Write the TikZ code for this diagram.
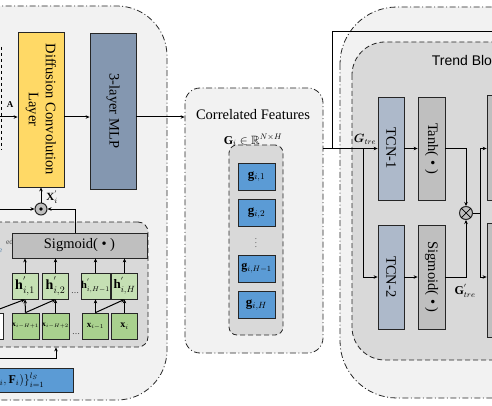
\documentclass[tikz,border=0pt]{standalone}
\usepackage{amsmath,amssymb}
\usepackage{fontspec}
\setmainfont{Liberation Serif}
\newfontfamily\arialfont{Liberation Sans}
\usetikzlibrary{arrows.meta}

\definecolor{panelgray}{HTML}{F2F2F2}
\definecolor{blockgray}{HTML}{D9D9D9}
\definecolor{actgray}{HTML}{BFBFBF}
\definecolor{dclyellow}{HTML}{FFD966}
\definecolor{mlpblue}{HTML}{8497B0}
\definecolor{tcnblue}{HTML}{ADB9CA}
\definecolor{hgreen}{HTML}{C5E0B4}
\definecolor{xgreen}{HTML}{A9D18E}
\definecolor{gblue}{HTML}{5B9BD5}

\begin{document}
\begin{tikzpicture}[x=1pt, y=-1pt, line width=1pt, >={Stealth[length=4pt,width=3.5pt]},
        box/.style={draw=black!85, line width=0.8pt, inner sep=0pt},
        panel/.style={draw=black!85, fill=panelgray, line width=0.8pt,
            dash pattern=on 6pt off 2.5pt on 1pt off 2.5pt},
        blk/.style={draw=black!85, fill=blockgray, line width=0.8pt,
            dash pattern=on 5pt off 3pt},
        txt/.style={font=\fontsize{14.5}{17}\selectfont},
        mth/.style={font=\fontsize{12}{12}\selectfont}]
            \useasboundingbox (0,0) rectangle (492,406);
            \clip (0,0) rectangle (492,406);
            %\draw[lightgray] (0, 0) grid[step=20] (492, 406);

            % left panel
            \draw[panel, rounded corners=50pt] (-60,6) rectangle (167,400);
            \draw[dashed] (1,47) -- (1,150);
            \node[box, fill=dclyellow, minimum width=46, minimum height=155] (dcl) at (41,109.5) {};
            \node[txt, rotate=-90, align=center] (dclt) at (dcl) {Diffusion Convolution\\Layer};
            \node[box, fill=mlpblue, minimum width=46, minimum height=156] (mlp) at (113,111) {};
            \node[txt, rotate=-90] (mlpt) at (mlp) {3-layer MLP};
            \coordinate (ain) at (-5,117);
            \node[font=\fontsize{9}{9}\selectfont] (alab) at (10,105) {$\mathbf{A}$};

            \node[blk, rounded corners=10pt, minimum width=178, minimum height=125] (gate) at (59,284.5) {};
            \node[anchor=east, font=\fontsize{7.5}{8}\selectfont, text=black!70] (gname) at (17,242) {ed};
            \node[anchor=east, font=\fontsize{7.5}{8}\selectfont, text=gblue!80!black] (gname2) at (6,251) {e};
            \node[box, fill=actgray, minimum width=135, minimum height=25, txt] (sig1) at (79.5,245.5) {Sigmoid( • )};

            \node[box, fill=hgreen, minimum size=26, font=\fontsize{14}{14}\selectfont] (h1) at (25,286) {$\mathbf{h}^{'}_{i,1}$};
            \node[box, fill=hgreen, minimum size=26, font=\fontsize{14}{14}\selectfont] (h2) at (55.5,286) {$\mathbf{h}^{'}_{i,2}$};
            \node[box, fill=hgreen, minimum size=26, font=\fontsize{10.5}{10}\selectfont] (h3) at (95.5,286) {$\mathbf{h}^{'}_{i,H-1}$};
            \node[box, fill=hgreen, minimum size=26, font=\fontsize{13}{13}\selectfont] (h4) at (124.5,286) {$\mathbf{h}^{'}_{i,H}$};
            \node[box, fill=white, minimum size=26] (x0) at (-10,326) {};
            \node[box, fill=xgreen, minimum size=26, font=\fontsize{7.5}{7}\selectfont] (x1) at (25.5,326) {$\mathbf{x}_{i-H+1}$};
            \node[box, fill=xgreen, minimum size=26, font=\fontsize{7.5}{7}\selectfont] (x2) at (55.5,326) {$\mathbf{x}_{i-H+2}$};
            \node[box, fill=xgreen, minimum size=26, font=\fontsize{9}{9}\selectfont] (x3) at (95.5,326) {$\mathbf{x}_{i-1}$};
            \node[box, fill=xgreen, minimum size=26, font=\fontsize{10}{10}\selectfont] (x4) at (124.5,326) {$\mathbf{x}_{i}$};
            \node[font=\fontsize{8}{8}\selectfont] (hdots) at (75,293) {\dots};
            \node[font=\fontsize{8}{8}\selectfont] (xdots) at (76,334) {\dots};

            \node[circle, draw=black!85, fill=actgray, minimum size=12, inner sep=0pt] (odot) at (41,209) {};
            \fill (odot) circle (1.8);
            \node[font=\fontsize{11}{11}\selectfont] (xlab) at (52,197) {$\mathbf{X}^{'}_{i}$};
            \coordinate (lin) at (-5,209);
            \coordinate (bin) at (-5,358);
            \node[box, fill=gblue, minimum width=134, minimum height=24, anchor=east] (data) at (74,380) {};
            \node[anchor=east, mth] (datat) at (48,380) {$\{(\mathbf{X}_i,\mathbf{F}_i)\}_{i=1}^{l_S}$};

            % correlated features
            \node[panel, rounded corners=15pt, minimum width=138, minimum height=265] (cf) at (254,220.5) {};
            \node[txt] (cft) at (253,115) {Correlated Features};
            \node[mth] (gdim) at (253,140) {$\mathbf{G}_i\in\mathbb{R}^{N\times H}$};
            \node[blk, rounded corners=8pt, minimum width=54, minimum height=190] (ginner) at (256,240) {};
            \node[box, fill=gblue, minimum width=37, minimum height=27, font=\fontsize{13}{13}\selectfont] (g1) at (256.5,176.5) {$\mathbf{g}_{i,1}$};
            \node[box, fill=gblue, minimum width=37, minimum height=27, font=\fontsize{13}{13}\selectfont] (g2) at (256.5,213) {$\mathbf{g}_{i,2}$};
            \node[font=\fontsize{7}{7}\selectfont, inner sep=0pt] (gdots) at (256,240) {$\vdots$};
            \node[box, fill=gblue, minimum width=37, minimum height=27, font=\fontsize{12}{12}\selectfont] (g3) at (256.5,268.5) {$\mathbf{g}_{i,H-1}$};
            \node[box, fill=gblue, minimum width=37, minimum height=27, font=\fontsize{13}{13}\selectfont] (g4) at (256.5,305) {$\mathbf{g}_{i,H}$};

            % right panel
            \draw[panel, rounded corners=57pt] (340,7) rectangle (600,398);
            \draw[blk, rounded corners=33pt] (352,42) rectangle (600,360);
            \node[anchor=west, font=\arialfont\fontsize{14}{14}\selectfont] (tbt) at (428,60) {Trend Block};
            \node[box, fill=tcnblue, minimum width=26, minimum height=103] (tcn1) at (391,148.5) {};
            \node[txt, rotate=-90] (tcn1t) at (tcn1) {TCN-1};
            \node[box, fill=actgray, minimum width=27, minimum height=103] (tanh) at (431.5,148.5) {};
            \node[txt, rotate=-90] (tanht) at (tanh) {Tanh( • )};
            \node[box, fill=tcnblue, minimum width=26, minimum height=104] (tcn2) at (391,277) {};
            \node[txt, rotate=-90] (tcn2t) at (tcn2) {TCN-2};
            \node[box, fill=actgray, minimum width=27, minimum height=104] (sig2) at (431.5,277) {};
            \node[txt, rotate=-90] (sig2t) at (sig2) {Sigmoid( • )};
            \node[circle, draw=black!85, fill=actgray, minimum size=13, inner sep=0pt] (mul) at (466,213) {};
            \draw[line width=0.7pt] (mul.north west) -- (mul.south east) (mul.north east) -- (mul.south west);
            \node[box, fill=actgray, minimum width=46, minimum height=105] (nx1) at (510,147.5) {};
            \node[box, fill=actgray, minimum width=46, minimum height=114] (nx2) at (510,280) {};
            \node[mth] (gtre) at (365,139) {$\boldsymbol{G}_{tre}$};
            \node[mth] (gtre2) at (465,291) {$\mathbf{G}^{'}_{tre}$};
            \coordinate (split) at (332,148.5);
            \coordinate (up) at (500,32);
            \coordinate (feed) at (363,148.5);
            \coordinate (jn) at (480,213);

            % connectors
            \draw[->] (ain) -- (ain -| dcl.west);
            \draw[->] (dcl.east |- ain) -- (mlp.west |- ain);
            \draw[->] (mlp.east |- ain) -- (cf.west |- ain);
            \draw[->] (odot.north) -- (dcl.south);
            \draw[->] (lin) -- (odot.west);
            \draw[->] ([xshift=-4.5pt]sig1.north) |- (odot.east);
            \draw[->] (h1.north) -- (h1.north |- sig1.south);
            \draw[->] (h2.north) -- (h2.north |- sig1.south);
            \draw[->] (h3.north) -- (h3.north |- sig1.south);
            \draw[->] (h4.north) -- (h4.north |- sig1.south);
            \draw[->] (x1.north) -- (h1.south);
            \draw[->] (x2.north) -- (h2.south);
            \draw[->] (x3.north) -- (h3.south);
            \draw[->] (x4.north) -- (h4.south);
            \draw[->] (x0.north) -- (h1.south);
            \draw[->] (x1.north) -- (h2.south);
            \draw[->] (x3.north) -- (h4.south);
            \draw[->] (bin) -| ([xshift=-3pt]gate.south);
            \draw[->] (cf.east |- tcn1) -- (tcn1.west);
            \draw (split) |- (up);
            \draw[->] (feed) |- (tcn2.west);
            \draw[->] (tcn1.east) -- (tanh.west);
            \draw[->] (tcn2.east) -- (sig2.west);
            \draw[->] (tanh.east) -| (mul.north);
            \draw[->] (sig2.east) -| (mul.south);
            \draw (mul.east) -- (jn);
            \draw[->] (jn) |- (nx1.west |- tcn1);
            \draw[->] (jn) |- (nx2.west |- tcn2);
        \end{tikzpicture}
\end{document}
